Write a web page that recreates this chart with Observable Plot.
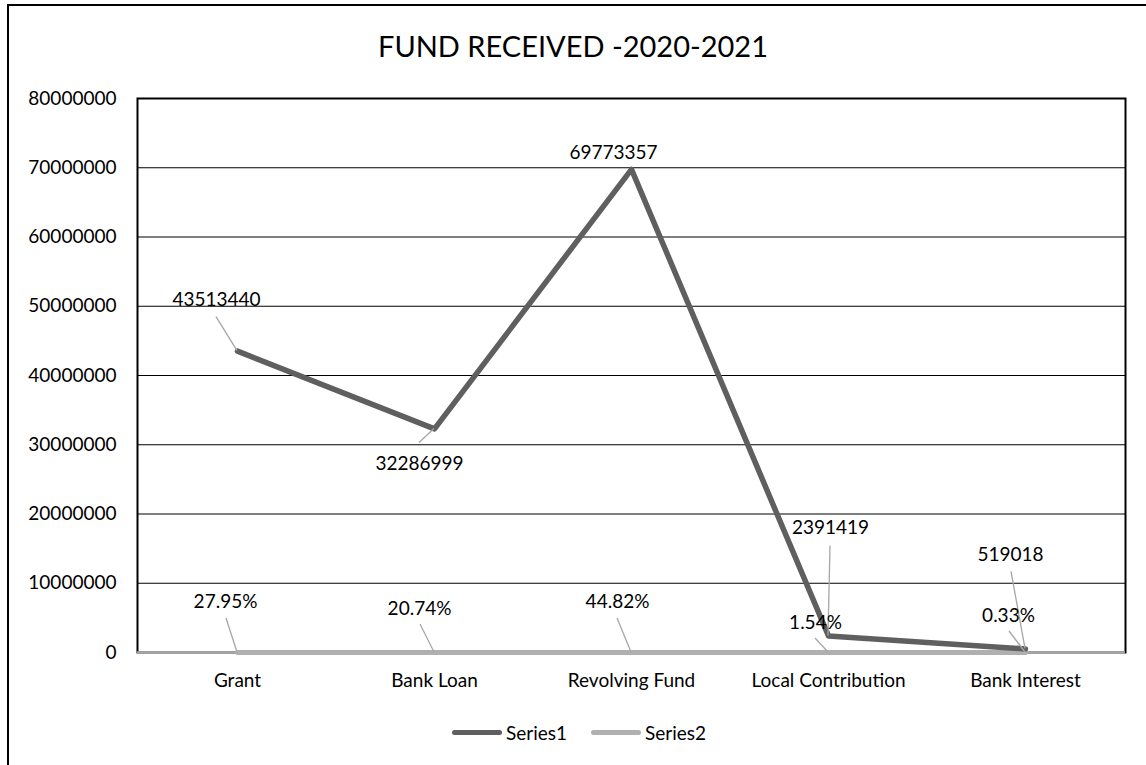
<!DOCTYPE html>
<html><head><meta charset="utf-8">
<script src="https://cdn.jsdelivr.net/npm/d3@7"></script>
<script src="https://cdn.jsdelivr.net/npm/@observablehq/plot@0.6"></script>
<style>
html,body{margin:0;padding:0;background:#fff;font-family:Lato, "Open Sans", sans-serif;overflow:hidden}
#wrap{position:relative;width:1146px;height:765px;overflow:hidden;background:#fff}
#frame{position:absolute;left:7px;top:4px;width:1139px;height:761px;border-left:2px solid #000;border-top:2px solid #000;box-sizing:border-box}
#title{position:absolute;left:0;width:1146px;top:29px;text-align:center;font-size:29px;line-height:34px;color:#000}
#chart{position:absolute;left:0;top:0}
#legend{position:absolute;top:720px;left:452px;height:24px;display:flex;align-items:center;font-size:19px;color:#000}
.sw{display:inline-block;width:50px;height:5px;border-radius:3px;margin-right:4px}
</style></head>
<body>
<div id="wrap">
  <div id="frame"></div>
  <div id="chart"></div>
  <div id="title">FUND RECEIVED -2020-2021</div>
  <div id="legend"></div>
</div>
<script>
const titleText = "FUND RECEIVED -2020-2021";
const categories = ["Grant", "Bank Loan", "Revolving Fund", "Local Contribution", "Bank Interest"];
const series1 = [43513440, 32286999, 69773357, 2391419, 519018];
const series2 = [27.95, 20.74, 44.82, 1.54, 0.33];
const series2Labels = ["27.95%", "20.74%", "44.82%", "1.54%", "0.33%"];
const yTicks = [0, 10000000, 20000000, 30000000, 40000000, 50000000, 60000000, 70000000, 80000000];
const seriesNames = ["Series1", "Series2"];

// layout (pixel offsets of data labels and leader lines relative to their points)
const s1LabelOff = [[-21,-51],[-15,35],[-18,-16],[2,-108],[-15,-94]];
const s1LeaderOff = [[-21,-34],[-15,14],null,[2,-90],[-14,-77]];
const s2LabelOff = [[-12,-51],[-15,-44],[-14,-51],[-13,-30],[-17,-37]];
const s2LeaderOff = [[-11,-34],[-14,-28],[-14,-34],[-13,-14],[-16,-21]];
const colors = ["#5f5f5f", "#b0b0b0"];

const rows = categories.map((c, i) => ({cat: c, v1: series1[i], v2: series2[i], i}));

function leaders(index, scales) {
  const g = d3.create("svg:g").attr("stroke", "#a6a6a6").attr("stroke-width", 1.3).attr("fill", "none");
  rows.forEach(r => {
    const x = scales.x(r.cat);
    const y1 = scales.y(r.v1), y2 = scales.y(r.v2);
    const a = s1LeaderOff[r.i];
    if (a) g.append("line").attr("x1", x).attr("y1", y1).attr("x2", x + a[0]).attr("y2", y1 + a[1]);
    const b = s2LeaderOff[r.i];
    if (b) g.append("line").attr("x1", x).attr("y1", y2).attr("x2", x + b[0]).attr("y2", y2 + b[1]);
  });
  return g.node();
}

const labelFont = 19;
const textMarks = [];
rows.forEach(r => {
  textMarks.push(Plot.text([r], {x: "cat", y: "v1", text: d => String(d.v1), dx: s1LabelOff[r.i][0], dy: s1LabelOff[r.i][1], fontSize: labelFont, fill: "#000"}));
  textMarks.push(Plot.text([r], {x: "cat", y: "v2", text: d => series2Labels[d.i], dx: s2LabelOff[r.i][0], dy: s2LabelOff[r.i][1], fontSize: labelFont, fill: "#000"}));
});

const chart = Plot.plot({
  width: 1146, height: 765,
  marginLeft: 137, marginRight: 21, marginTop: 98, marginBottom: 113,
  style: {fontFamily: "Lato, 'Open Sans', sans-serif", fontSize: "19px", color: "#000", background: "transparent", overflow: "visible"},
  x: {type: "point", domain: categories, padding: 0.5, label: null},
  y: {domain: [0, 80000000], label: null},
  marks: [
    Plot.ruleY(yTicks.filter(d => d > 0 && d < 80000000), {stroke: "#000", strokeWidth: 1.2}),
    Plot.frame({stroke: "#000", strokeWidth: 2}),
    Plot.ruleY([0], {stroke: "#a8a8a8", strokeWidth: 2.5}),
    Plot.axisY({ticks: yTicks, tickFormat: d3.format("d"), tickSize: 0, tickPadding: 21, fontSize: 19, label: null}),
    Plot.axisX({tickSize: 0, tickPadding: 21, fontSize: 19, label: null}),
    Plot.line(rows, {x: "cat", y: "v2", stroke: colors[1], strokeWidth: 5}),
    Plot.line(rows, {x: "cat", y: "v1", stroke: colors[0], strokeWidth: 5.5}),
    leaders,
    ...textMarks
  ]
});
document.getElementById("chart").appendChild(chart);
document.getElementById("title").textContent = titleText;

const legend = d3.select("#legend");
seriesNames.forEach((n, k) => {
  const item = legend.append("span").style("display", "inline-flex").style("align-items", "center").style("margin-right", k === 0 ? "24px" : "0");
  item.append("span").attr("class", "sw").style("background", colors[k]);
  item.append("span").text(n);
});
</script>
</body></html>
